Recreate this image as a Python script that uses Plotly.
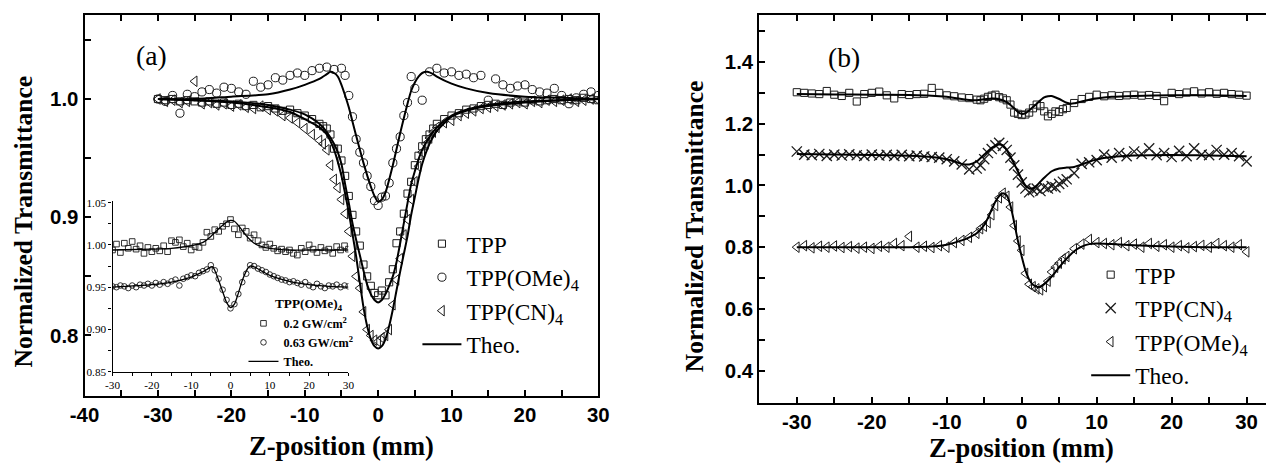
import plotly.graph_objects as go

# ---------------- Panel (a): main Z-scan data ----------------
z_a = [-30, -29, -28, -27, -26, -25, -24, -23, -22, -21, -20, -19, -18, -17, -16, -15, -14, -13, -12, -11, -10, -9,
       -8, -7.5, -7, -6.5, -6, -5.5, -5, -4.5, -4, -3.5, -3, -2.5, -2, -1.5, -1, -0.5, 0, 0.5, 1, 1.5, 2, 2.5, 3, 3.5,
       4, 4.5, 5, 5.5, 6, 6.5, 7, 7.5, 8,
       9, 10, 11, 12, 13, 14, 15, 16, 17, 18, 19, 20, 21, 22, 23, 24, 25, 26, 27, 28, 29, 30]
tpp_a = [1.000, 0.999, 1.000, 0.998, 0.999, 0.998, 0.997, 0.998, 0.996, 0.997, 0.995, 0.996, 0.994, 0.995, 0.993,
         0.994, 0.992, 0.990, 0.991, 0.988, 0.986, 0.983,
         0.979, 0.977, 0.975, 0.970, 0.958, 0.958, 0.948, 0.935, 0.918, 0.902, 0.888, 0.876, 0.860, 0.850, 0.842,
         0.836, 0.834, 0.838, 0.834, 0.845, 0.856, 0.878, 0.888, 0.903, 0.920, 0.930, 0.944, 0.952, 0.960, 0.966,
         0.970, 0.975, 0.979,
         0.983, 0.986, 0.988, 0.991, 0.992, 0.994, 0.995, 0.996, 0.995, 0.997, 0.998, 0.997, 0.999, 0.998, 0.999,
         1.000, 0.999, 1.000, 0.999, 1.001, 1.000, 0.999]
cn_a = [1.000, 0.998, 0.999, 0.997, 0.998, 1.015, 0.996, 0.997, 0.995, 0.996, 0.994, 0.995, 0.993, 0.992, 0.994,
        0.991, 0.990, 0.986, 0.984, 0.980, 0.975, 0.970,
        0.965, 0.962, 0.957, 0.944, 0.932, 0.925, 0.915, 0.903, 0.888, 0.867, 0.850, 0.840, 0.820, 0.805, 0.800,
        0.796, 0.795, 0.798, 0.800, 0.805, 0.826, 0.847, 0.865, 0.885, 0.898, 0.915, 0.930, 0.943, 0.955, 0.962,
        0.967, 0.972, 0.976,
        0.980, 0.982, 0.986, 0.988, 0.990, 0.992, 0.993, 0.994, 0.995, 0.996, 0.997, 0.996, 0.998, 0.997, 0.999,
        0.998, 0.999, 1.000, 0.998, 0.999, 1.000, 0.999]
z_ome_a = [-30, -29, -28, -27, -26, -25, -24, -23, -22, -21, -20, -19, -18, -17, -16, -15, -14, -13, -12, -11, -10,
           -9, -8, -7, -6,
           -5, -4.5, -4, -3.5, -3, -2.5, -2, -1.5, -1, -0.5, 0, 0.5, 1, 1.5, 2, 2.5, 3, 3.5, 4, 4.5, 5,
           6, 7, 8, 9, 10, 11, 12, 13, 14, 15, 16, 17, 18, 19, 20, 21, 22, 23, 24, 25, 26, 27, 28, 29, 30]
ome_a = [1.000, 0.998, 1.003, 0.988, 1.004, 1.002, 1.006, 1.008, 1.005, 1.010, 1.009, 1.006, 1.004, 1.015, 1.010,
         1.012, 1.018, 1.016, 1.020, 1.022, 1.020, 1.024, 1.026, 1.027, 1.025,
         1.026, 1.020, 1.003, 0.985, 0.966, 0.955, 0.946, 0.935, 0.926, 0.914, 0.910, 0.917, 0.918, 0.929, 0.946,
         0.958, 0.968, 0.986, 0.997, 1.019, 1.009,
         0.999, 1.023, 1.026, 1.022, 1.023, 1.020, 1.021, 1.018, 1.020, 0.999, 1.017, 1.012, 1.009, 1.011, 1.012,
         1.008, 1.006, 1.005, 1.009, 1.003, 0.996, 1.001, 1.004, 1.006, 1.003]

# theoretical fits, panel (a)
z_fit_a = [-30, -25, -20, -15, -12, -10, -8, -7, -6, -5.5, -5, -4.5, -4, -3.5, -3, -2.5, -2, -1.5, -1, -0.5, 0, 0.5,
           1, 1.5, 2, 2.5, 3, 3.5, 4, 4.5, 5, 5.5, 6, 7, 8, 10, 12, 15, 20, 25, 30]
tpp_fit_a = [1.0, 0.999, 0.998, 0.995, 0.991, 0.987, 0.979, 0.972, 0.962, 0.955, 0.945, 0.928, 0.912, 0.895, 0.881,
             0.868, 0.855, 0.843, 0.835, 0.830, 0.828, 0.830, 0.835, 0.842, 0.850, 0.862, 0.878, 0.895, 0.912,
             0.928, 0.939, 0.949, 0.957, 0.968, 0.976, 0.986, 0.991, 0.995, 0.998, 0.999, 1.0]
cn_fit_a = [1.0, 0.999, 0.997, 0.993, 0.989, 0.983, 0.976, 0.970, 0.957, 0.947, 0.935, 0.920, 0.904, 0.886, 0.867,
            0.845, 0.824, 0.808, 0.797, 0.791, 0.789, 0.791, 0.797, 0.808, 0.822, 0.838, 0.854, 0.869, 0.884,
            0.902, 0.917, 0.932, 0.945, 0.962, 0.973, 0.985, 0.990, 0.994, 0.997, 0.999, 1.0]
z_ome_fit_a = [-30, -25, -20, -15, -12, -10, -8, -7, -6.5, -6, -5.5, -5, -4.5, -4, -3.5, -3, -2, -1, -0.5, 0, 0.5,
               1, 2, 3, 4, 4.5, 5, 5.5, 6, 6.7, 7.5, 8, 10, 12, 15, 20, 25, 30]
ome_fit_a = [1.0, 1.0, 1.002, 1.004, 1.008, 1.012, 1.017, 1.021, 1.023, 1.022, 1.019, 1.012, 1.003, 0.993, 0.981,
             0.969, 0.946, 0.926, 0.918, 0.913, 0.915, 0.921, 0.944, 0.971, 0.996, 1.007, 1.014, 1.019, 1.022,
             1.023, 1.021, 1.019, 1.013, 1.009, 1.005, 1.002, 1.001, 1.0]

# ---------------- Inset of panel (a): TPP(OMe)4 at two intensities ----------------
z_in = [-30, -29, -28, -27, -26, -25, -24, -23, -22, -21, -20, -19, -18, -17, -16, -15, -14, -13, -12, -11, -10,
        -9, -8, -7, -6, -5, -4, -3, -2, -1, 0, 1, 2, 3, 4, 5, 6, 7, 8, 9, 10, 11, 12, 13, 14, 15, 16, 17, 18, 19,
        20, 21, 22, 23, 24, 25, 26, 27, 28, 29, 30]
low_in = [0.994, 1.001, 0.991, 1.002, 0.996, 1.004, 0.995, 0.999, 0.990, 0.997, 0.992, 0.996, 0.993, 0.999, 0.992,
          1.005, 1.003, 1.006, 0.998, 1.002, 0.994, 0.998, 0.997, 1.003, 1.015, 1.010, 1.018, 1.016, 1.022, 1.025,
          1.030, 1.019, 1.012, 1.020, 1.016, 1.008, 1.012, 1.005, 1.000, 0.997, 1.001, 0.996, 0.993, 0.995, 0.992,
          0.994, 0.990, 0.988, 0.996, 0.992, 1.000, 0.995, 0.991, 0.997, 0.993, 0.995, 0.990, 0.998, 0.994, 0.999,
          0.995]
high_in = [0.951, 0.950, 0.952, 0.951, 0.949, 0.952, 0.950, 0.953, 0.952, 0.954, 0.952, 0.955, 0.953, 0.956, 0.954,
           0.957, 0.959, 0.952, 0.960, 0.962, 0.964, 0.963, 0.967, 0.969, 0.971, 0.976, 0.970, 0.960, 0.947, 0.935,
           0.925, 0.930, 0.942, 0.956, 0.966, 0.976, 0.975, 0.972, 0.970, 0.968, 0.965, 0.963, 0.961, 0.959, 0.958,
           0.956, 0.957, 0.955, 0.953, 0.956, 0.952, 0.950, 0.954, 0.951, 0.949, 0.952, 0.951, 0.953, 0.950, 0.952,
           0.951]
z_low_fit = [-30, -20, -15, -10, -7, -5, -3, -1, 0, 1, 2, 3, 4, 5, 6, 8, 10, 15, 20, 30]
low_fit = [0.994, 0.995, 0.996, 0.999, 1.003, 1.010, 1.019, 1.027, 1.029, 1.028, 1.023, 1.017, 1.011, 1.006, 1.002,
           0.998, 0.996, 0.994, 0.994, 0.994]
z_high_fit = [-30, -20, -15, -10, -8, -6, -5, -4.5, -4, -3, -2, -1, 0, 1, 2, 3, 4, 4.5, 5, 6, 8, 10, 15, 20, 25, 30]
high_fit = [0.950, 0.953, 0.956, 0.962, 0.966, 0.971, 0.974, 0.974, 0.970, 0.958, 0.945, 0.932, 0.926, 0.930, 0.943,
            0.958, 0.969, 0.973, 0.975, 0.974, 0.969, 0.964, 0.957, 0.953, 0.951, 0.950]

# ---------------- Panel (b) ----------------
z_b = [-30, -29, -28, -27, -26, -25, -24, -23, -22, -21, -20, -19, -18, -17, -16, -15, -14, -13, -12, -11, -10, -9,
       -8, -7,
       -6, -5.5, -5, -4.5, -4, -3.5, -3, -2.5, -2, -1.5, -1, -0.5, 0, 0.5, 1, 1.5, 2, 2.5, 3, 3.5, 4, 4.5, 5, 5.5, 6,
       7, 8, 9, 10, 11, 12, 13, 14, 15, 16, 17, 18, 19, 20, 21, 22, 23, 24, 25, 26, 27, 28, 29, 30]
tpp_b = [1.302, 1.300, 1.298, 1.296, 1.306, 1.294, 1.290, 1.300, 1.272, 1.296, 1.300, 1.304, 1.292, 1.282, 1.296,
         1.293, 1.296, 1.297, 1.316, 1.300, 1.292, 1.289, 1.285, 1.283,
         1.278, 1.276, 1.281, 1.287, 1.291, 1.294, 1.286, 1.282, 1.276, 1.262, 1.236, 1.232, 1.228, 1.230, 1.236,
         1.250, 1.262, 1.257, 1.240, 1.224, 1.232, 1.240, 1.238, 1.247, 1.251,
         1.267, 1.280, 1.287, 1.294, 1.289, 1.292, 1.290, 1.292, 1.294, 1.291, 1.293, 1.290, 1.273, 1.300, 1.296,
         1.301, 1.305, 1.298, 1.302, 1.297, 1.300, 1.296, 1.294, 1.291]
cn_b = [1.110, 1.100, 1.098, 1.102, 1.096, 1.100, 1.097, 1.101, 1.098, 1.096, 1.100, 1.097, 1.099, 1.096, 1.099,
        1.095, 1.097, 1.094, 1.092, 1.090, 1.085, 1.078, 1.068, 1.052,
        1.055, 1.065, 1.085, 1.105, 1.118, 1.130, 1.138, 1.128, 1.115, 1.090, 1.065, 1.035, 1.010, 0.990, 0.978,
        0.985, 0.990, 0.982, 0.995, 0.990, 0.998, 0.994, 1.005, 1.012, 1.020,
        1.040, 1.070, 1.075, 1.082, 1.100, 1.090, 1.105, 1.095, 1.110, 1.102, 1.120, 1.098, 1.105, 1.092, 1.112,
        1.095, 1.120, 1.100, 1.098, 1.115, 1.100, 1.105, 1.095, 1.078]
ome_b = [0.800, 0.805, 0.798, 0.803, 0.800, 0.804, 0.799, 0.802, 0.797, 0.800, 0.796, 0.803, 0.800, 0.812, 0.805,
         0.835, 0.800, 0.803, 0.799, 0.805, 0.800, 0.815, 0.822, 0.832,
         0.845, 0.860, 0.868, 0.880, 0.905, 0.935, 0.960, 0.975, 0.965, 0.930, 0.870, 0.820, 0.790, 0.715, 0.680,
         0.672, 0.665, 0.662, 0.672, 0.690, 0.720, 0.735, 0.748, 0.762, 0.770,
         0.795, 0.810, 0.825, 0.815, 0.812, 0.808, 0.815, 0.805, 0.810, 0.800, 0.812, 0.803, 0.808, 0.800, 0.805,
         0.798, 0.802, 0.806, 0.800, 0.812, 0.805, 0.800, 0.808, 0.785]

z_tpp_fit_b = [-30, -25, -20, -15, -12, -10, -8, -7, -6, -5, -4, -3, -2, -1, -0.5, 0, 0.5, 1, 2, 3, 3.5, 4, 5, 6,
               6.5, 7, 8, 9, 10, 12, 15, 20, 25, 30]
tpp_fit_b = [1.296, 1.295, 1.294, 1.293, 1.291, 1.287, 1.280, 1.277, 1.276, 1.279, 1.282, 1.279, 1.270, 1.250,
             1.238, 1.232, 1.234, 1.243, 1.265, 1.285, 1.289, 1.290, 1.280, 1.268, 1.265, 1.266, 1.272, 1.278,
             1.282, 1.287, 1.290, 1.292, 1.292, 1.290]
z_cn_fit_b = [-30, -25, -20, -15, -12, -10, -9, -8, -7, -6, -5, -4, -3, -2.5, -2, -1, 0, 0.5, 1, 1.5, 2, 3, 4, 5,
              6, 7, 8, 9, 10, 12, 15, 20, 25, 30]
cn_fit_b = [1.102, 1.100, 1.099, 1.096, 1.092, 1.085, 1.078, 1.070, 1.068, 1.078, 1.100, 1.122, 1.133, 1.130,
            1.115, 1.070, 1.020, 1.000, 0.990, 0.991, 1.000, 1.025, 1.046, 1.055, 1.058, 1.060, 1.068, 1.077,
            1.084, 1.092, 1.097, 1.099, 1.097, 1.095]
z_ome_fit_b = [-30, -25, -20, -15, -12, -10, -8, -7, -6, -5, -4.5, -4, -3.5, -3, -2.5, -2, -1.5, -1, -0.5, 0, 0.5,
               1, 1.5, 2, 2.5, 3, 4, 5, 6, 7, 8, 9, 10, 12, 15, 20, 25, 30]
ome_fit_b = [0.800, 0.800, 0.800, 0.800, 0.802, 0.808, 0.822, 0.832, 0.845, 0.872, 0.895, 0.922, 0.948, 0.966,
             0.975, 0.968, 0.935, 0.880, 0.820, 0.770, 0.725, 0.695, 0.678, 0.672, 0.672, 0.680, 0.705, 0.735,
             0.763, 0.787, 0.802, 0.810, 0.812, 0.810, 0.806, 0.802, 0.800, 0.800]

# ---------------- layout geometry ----------------
# The page body has an 8 px margin; the photographed page also comes out slightly shrunk
# (about 0.98, offset ~ (14.6, 4.1) px), so target picture positions are mapped back to page pixels.
OFF = 8
SX, OX = 0.980, 14.6
SY, OY = 0.979, 4.1
W, H = 1278, 460
MK = '#1c1c1c'
SERIF = 'Liberation Serif'
SANS = 'Liberation Sans'
FS = 1 / SX  # font compensation


def fx(p):
    return ((p - OX) / SX - OFF) / W


def fy(p):
    return 1 - ((p - OY) / SY - OFF) / H


def pts(x, y, sym, size, name, xa, ya, lg, lw=1.0):
    return go.Scatter(x=x, y=y, mode='markers', name=name, xaxis=xa, yaxis=ya, legend=lg,
                      marker=dict(symbol=sym, size=size * FS, color=MK, line=dict(width=lw, color=MK)))


def fit(x, y, xa, ya, lg, show, width=2.0):
    return go.Scatter(x=x, y=y, mode='lines', name='Theo.', xaxis=xa, yaxis=ya, legend=lg, showlegend=show,
                      line=dict(color='black', width=width, shape='spline', smoothing=0.7))


fig = go.Figure()
# panel (a)
fig.add_trace(pts(z_a, tpp_a, 'square-open', 7, 'TPP', 'x', 'y', 'legend'))
fig.add_trace(pts(z_ome_a, ome_a, 'circle-open', 8, 'TPP(OMe)<sub>4</sub>', 'x', 'y', 'legend'))
fig.add_trace(pts(z_a, cn_a, 'triangle-left-open', 9, 'TPP(CN)<sub>4</sub>', 'x', 'y', 'legend'))
fig.add_trace(fit(z_fit_a, tpp_fit_a, 'x', 'y', 'legend', True))
fig.add_trace(fit(z_fit_a, cn_fit_a, 'x', 'y', 'legend', False))
fig.add_trace(fit(z_ome_fit_a, ome_fit_a, 'x', 'y', 'legend', False))
# inset
fig.add_trace(pts(z_in, low_in, 'square-open', 5.5, '0.2 GW/cm<sup>2</sup>', 'x3', 'y3', 'legend3', 0.9))
fig.add_trace(pts(z_in, high_in, 'circle-open', 5.5, '0.63 GW/cm<sup>2</sup>', 'x3', 'y3', 'legend3', 0.9))
fig.add_trace(fit(z_low_fit, low_fit, 'x3', 'y3', 'legend3', True, 1.3))
fig.add_trace(fit(z_high_fit, high_fit, 'x3', 'y3', 'legend3', False, 1.3))
# panel (b)
fig.add_trace(pts(z_b, tpp_b, 'square-open', 7, 'TPP', 'x2', 'y2', 'legend2'))
fig.add_trace(pts(z_b, cn_b, 'x-thin-open', 10, 'TPP(CN)<sub>4</sub>', 'x2', 'y2', 'legend2', 1.3))
fig.add_trace(pts(z_b, ome_b, 'triangle-left-open', 9, 'TPP(OMe)<sub>4</sub>', 'x2', 'y2', 'legend2'))
fig.add_trace(fit(z_tpp_fit_b, tpp_fit_b, 'x2', 'y2', 'legend2', True))
fig.add_trace(fit(z_cn_fit_b, cn_fit_b, 'x2', 'y2', 'legend2', False))
fig.add_trace(fit(z_ome_fit_b, ome_fit_b, 'x2', 'y2', 'legend2', False))

tickfont = dict(family=SANS, size=20 * FS, color='black', weight='bold')
axis_common = dict(showgrid=False, zeroline=False, showline=True, linecolor='black', linewidth=2,
                   ticks='inside', ticklen=6, tickwidth=1.5, tickcolor='black', tickfont=tickfont)

xa_vals = [-40, -35, -30, -25, -20, -15, -10, -5, 0, 5, 10, 15, 20, 25, 30]
xb_vals = [-35, -30, -25, -20, -15, -10, -5, 0, 5, 10, 15, 20, 25, 30]
xi_vals = [-30, -25, -20, -15, -10, -5, 0, 5, 10, 15, 20, 25, 30]


def lbl10(v):
    return str(v) if v % 10 == 0 else ''


xb_end = min(1.0, fx(1274))
fig.update_layout(
    width=W, height=H, autosize=False,
    margin=dict(l=0, r=0, t=0, b=0),
    paper_bgcolor='white', plot_bgcolor='rgba(0,0,0,0)',
    xaxis=dict(axis_common, domain=[fx(84), fx(598)], range=[-40, 30], anchor='y', mirror='ticks',
               tickvals=xa_vals, ticktext=[lbl10(v) for v in xa_vals], ticklabelstandoff=0),
    yaxis=dict(axis_common, domain=[fy(396), fy(15)], range=[0.749, 1.071], anchor='x', mirror=True,
               tickvals=[0.8, 0.85, 0.9, 0.95, 1.0, 1.05], ticktext=['0.8', '', '0.9', '', '1.0', '']),
    yaxis4=dict(overlaying='y', anchor='x', side='right', range=[0, 381], tick0=1.4, dtick=31.6,
                showgrid=False, zeroline=False, showline=False, showticklabels=False,
                ticks='inside', ticklen=6, tickwidth=1.5, tickcolor='black'),
    xaxis2=dict(axis_common, domain=[fx(759), xb_end], range=[-35, 33.67], anchor='y2', mirror='ticks',
                tickvals=xb_vals, ticktext=[lbl10(v) for v in xb_vals], ticklabelstandoff=0),
    yaxis2=dict(axis_common, domain=[fy(403), fy(15)], range=[0.296, 1.552], anchor='x2', mirror=False,
                tickvals=[0.4, 0.5, 0.6, 0.7, 0.8, 0.9, 1.0, 1.1, 1.2, 1.3, 1.4, 1.5],
                ticktext=['0.4', '', '0.6', '', '0.8', '', '1.0', '', '1.2', '', '1.4', '']),
    xaxis3=dict(domain=[fx(112), fx(348)], range=[-30, 30], anchor='y3', showgrid=False, zeroline=False,
                showline=True, linecolor='black', linewidth=1.3, ticks='outside', ticklen=3, tickwidth=1,
                tickcolor='black', tickvals=xi_vals, ticktext=[lbl10(v) for v in xi_vals],
                tickfont=dict(family=SERIF, size=11 * FS, color='black')),
    yaxis3=dict(domain=[fy(372), fy(201)], range=[0.85, 1.052], anchor='x3', showgrid=False, zeroline=False,
                showline=True, linecolor='black', linewidth=1.3, ticks='outside', ticklen=3, tickwidth=1,
                tickcolor='black', tickvals=[0.85, 0.875, 0.9, 0.925, 0.95, 0.975, 1.0, 1.025, 1.05],
                ticktext=['0.85', '', '0.90', '', '0.95', '', '1.00', '', '1.05'],
                tickfont=dict(family=SERIF, size=11 * FS, color='black')),
    legend=dict(x=fx(417), y=fy(222), xanchor='left', yanchor='top', bgcolor='rgba(0,0,0,0)',
                font=dict(family=SERIF, size=23 * FS, color='black'), tracegroupgap=0, itemwidth=39),
    legend2=dict(x=fx(1086), y=fy(253), xanchor='left', yanchor='top', bgcolor='rgba(0,0,0,0)',
                 font=dict(family=SERIF, size=23 * FS, color='black'), tracegroupgap=0, itemwidth=39),
    legend3=dict(x=fx(243), y=fy(309), xanchor='left', yanchor='top', bgcolor='rgba(0,0,0,0)',
                 font=dict(family=SERIF, size=12 * FS, color='black', weight='bold'), tracegroupgap=0,
                 itemwidth=30),
    showlegend=True,
)

annots = [
    dict(text='(a)', x=fx(151), y=fy(55), font=dict(family=SERIF, size=27 * FS, color='black')),
    dict(text='(b)', x=fx(844), y=fy(57), font=dict(family=SERIF, size=27 * FS, color='black')),
    dict(text='<b>Z-position (mm)</b>', x=fx(341), y=fy(446), font=dict(family=SERIF, size=26 * FS, color='black')),
    dict(text='<b>Z-position (mm)</b>', x=fx(1021), y=fy(448), font=dict(family=SERIF, size=26 * FS, color='black')),
    dict(text='<b>Normalized Transmittance</b>', x=fx(23), y=fy(222), textangle=-90,
         font=dict(family=SERIF, size=25 * FS, color='black')),
    dict(text='<b>Normalized Transmittance</b>', x=fx(695), y=fy(226), textangle=-90,
         font=dict(family=SERIF, size=25 * FS, color='black')),
    dict(text='<b>TPP(OMe)<sub>4</sub></b>', x=fx(309), y=fy(305),
         font=dict(family=SERIF, size=13 * FS, color='black')),
]
for a in annots:
    a.update(xref='paper', yref='paper', showarrow=False, xanchor='center', yanchor='middle')
fig.update_layout(annotations=annots)

fig.write_html('out.html')
